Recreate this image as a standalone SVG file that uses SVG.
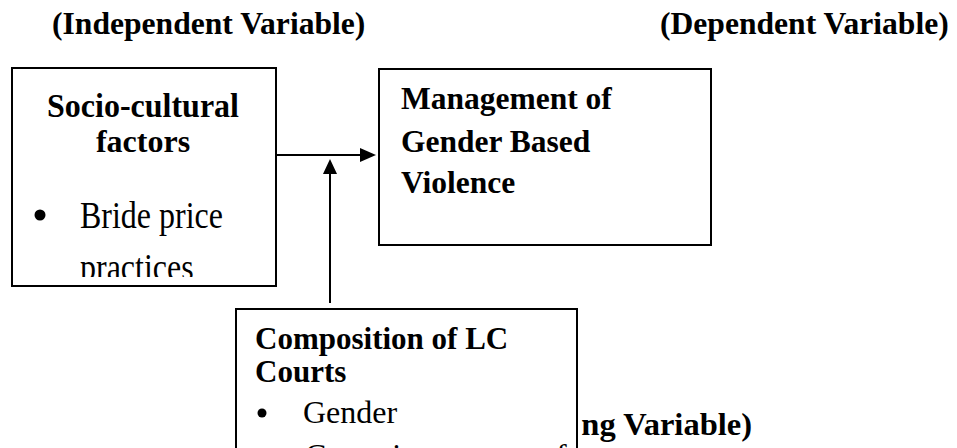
<svg xmlns="http://www.w3.org/2000/svg" width="957" height="448" viewBox="0 0 957 448">
<style>
.box{fill:#fff;stroke:#000;stroke-width:2}
.b{font-family:"Liberation Serif","Times New Roman",serif;font-weight:bold;fill:#000}
.r{font-family:"Liberation Serif","Times New Roman",serif;fill:#000}
.ln{stroke:#000;stroke-width:2;fill:none}
</style>
<defs>
<clipPath id="c1"><rect x="13" y="69" width="262" height="208"/></clipPath>
</defs>
<rect width="957" height="448" fill="#fff"/>
<g id="hdr">
<text class="b" x="52" y="34" font-size="31.6">(Independent Variable)</text>
<text class="b" x="660" y="34" font-size="31.6">(Dependent Variable)</text>
</g>
<text id="modlabel" class="b" x="752" y="435" font-size="32.5" text-anchor="end">ng Variable)</text>
<g id="n1">
<rect class="box" x="12" y="68" width="264" height="218"/>
<g clip-path="url(#c1)">
<text class="b" transform="translate(143,117) scale(1,1.08)" font-size="32" text-anchor="middle">Socio-cultural</text>
<text class="b" x="143" y="152" font-size="32" text-anchor="middle">factors</text>
<circle cx="40" cy="215" r="5.5"/>
<text class="r" transform="translate(80,228) scale(1,1.18)" font-size="32">Bride price</text>
<text class="r" transform="translate(80,280) scale(1,1.18)" font-size="32">practices</text>
</g>
</g>
<g id="n2">
<rect class="box" x="379" y="69" width="332" height="176"/>
<text class="b" x="401" y="109" font-size="31.5">Management of</text>
<text class="b" x="401" y="152" font-size="31.5">Gender Based</text>
<text class="b" x="401" y="193" font-size="31.5">Violence</text>
</g>
<g id="n3">
<rect class="box" x="236" y="309" width="341" height="160"/>
<text class="b" x="255" y="349" font-size="31">Composition of LC</text>
<text class="b" x="255" y="382" font-size="31">Courts</text>
<circle cx="262" cy="413" r="4.5"/>
<text class="r" x="303" y="423" font-size="32">Gender</text>
<text class="r" x="305" y="466" font-size="32">Commitment <tspan x="540">of</tspan></text>
</g>
<g id="connectors">
<line class="ln" x1="276" y1="155" x2="362" y2="155"/>
<polygon points="376,155 360,148 360,162" fill="#000"/>
<line class="ln" x1="330" y1="303" x2="330" y2="172"/>
<polygon points="330,159 323,174 337,174" fill="#000"/>
</g>
</svg>
